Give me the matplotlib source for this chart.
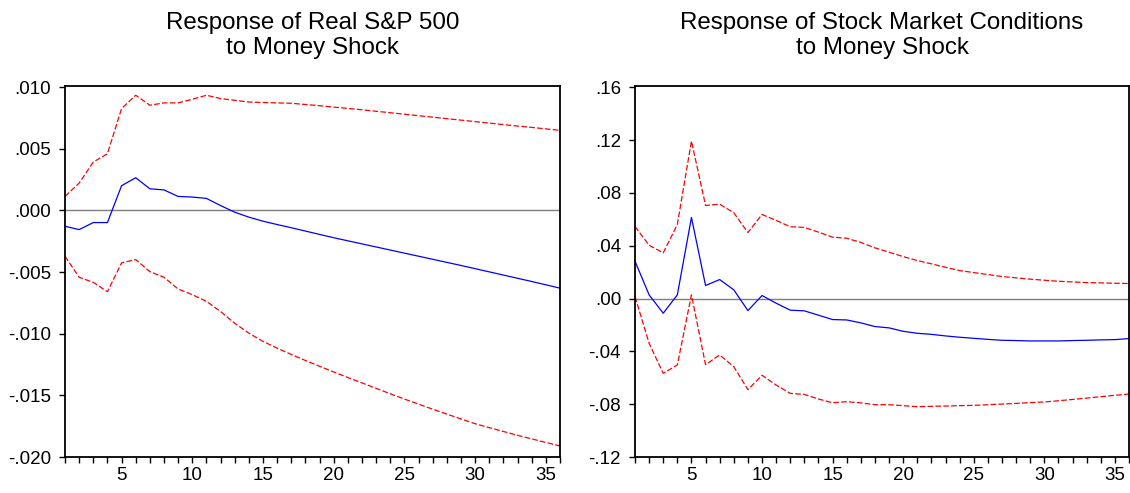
import numpy as np
import matplotlib
matplotlib.use("Agg")
import matplotlib.pyplot as plt
from matplotlib.ticker import FuncFormatter, MultipleLocator

plt.rcParams['font.family'] = ['Liberation Sans', 'DejaVu Sans']

periods = list(range(1, 37))

# Response of Real S&P 500 to money shock
sp_resp = [-0.00128, -0.00155, -0.00098, -0.00098, 0.00201, 0.00266, 0.00176, 0.00167,
           0.00114, 0.00109, 0.00098, 0.00040, -0.00014, -0.00054, -0.00087, -0.00114,
           -0.00140, -0.00167, -0.00194, -0.00221, -0.00246, -0.00271, -0.00296, -0.00321,
           -0.00346, -0.00371, -0.00396, -0.00421, -0.00446, -0.00472, -0.00498, -0.00524,
           -0.00550, -0.00576, -0.00603, -0.00630]
sp_upper = [0.00114, 0.00222, 0.00393, 0.00461, 0.00827, 0.00935, 0.00854, 0.00873,
            0.00873, 0.00902, 0.00935, 0.00908, 0.00894, 0.00880, 0.00876, 0.00873,
            0.00870, 0.00860, 0.00850, 0.00839, 0.00828, 0.00817, 0.00805, 0.00793,
            0.00781, 0.00769, 0.00757, 0.00745, 0.00733, 0.00721, 0.00709, 0.00697,
            0.00685, 0.00674, 0.00662, 0.00650]
sp_lower = [-0.00371, -0.00542, -0.00583, -0.00659, -0.00425, -0.00398, -0.00496, -0.00542,
            -0.00637, -0.00683, -0.00737, -0.00820, -0.00915, -0.00995, -0.01062, -0.01117,
            -0.01168, -0.01217, -0.01264, -0.01310, -0.01355, -0.01399, -0.01443, -0.01487,
            -0.01530, -0.01571, -0.01612, -0.01652, -0.01691, -0.01730, -0.01762, -0.01793,
            -0.01824, -0.01853, -0.01882, -0.01910]

# Response of stock market conditions to money shock
smc_resp = [0.0283, 0.0028, -0.0111, 0.0028, 0.0614, 0.0099, 0.0144, 0.0066,
            -0.0091, 0.0023, -0.0035, -0.0088, -0.0093, -0.0126, -0.0159, -0.0162,
            -0.0184, -0.0212, -0.0222, -0.0248, -0.0263, -0.0271, -0.0283, -0.0293,
            -0.0301, -0.0309, -0.0316, -0.0318, -0.0321, -0.0321, -0.0321, -0.0318,
            -0.0316, -0.0313, -0.0311, -0.0303]
smc_upper = [0.0546, 0.0404, 0.0346, 0.0561, 0.1193, 0.0705, 0.0715, 0.0650,
             0.0500, 0.0637, 0.0592, 0.0544, 0.0539, 0.0503, 0.0465, 0.0457,
             0.0425, 0.0384, 0.0351, 0.0318, 0.0288, 0.0263, 0.0237, 0.0212,
             0.0197, 0.0182, 0.0167, 0.0157, 0.0147, 0.0139, 0.0131, 0.0126,
             0.0121, 0.0119, 0.0116, 0.0114]
smc_lower = [0.0015, -0.0339, -0.0566, -0.0503, 0.0028, -0.0501, -0.0427, -0.0516,
             -0.0690, -0.0581, -0.0655, -0.0718, -0.0726, -0.0761, -0.0789, -0.0781,
             -0.0790, -0.0804, -0.0804, -0.0811, -0.0819, -0.0816, -0.0814, -0.0811,
             -0.0809, -0.0804, -0.0799, -0.0794, -0.0788, -0.0783, -0.0774, -0.0764,
             -0.0754, -0.0743, -0.0733, -0.0723]


def no_lead_zero(decimals):
    def fmt(v, pos):
        s = f"{v:.{decimals}f}"
        return s.replace("0.", ".", 1)
    return FuncFormatter(fmt)


def draw_panel(ax, title, resp, upper, lower, ylim, ystep, decimals):
    ax.axhline(0, color="#7f7f7f", linewidth=1.0, zorder=1)
    ax.plot(periods, upper, color="#ff0000", linewidth=0.9, dashes=(4.5, 1.8))
    ax.plot(periods, lower, color="#ff0000", linewidth=0.9, dashes=(4.5, 1.8))
    ax.plot(periods, resp, color="#0000ff", linewidth=0.9)
    ax.set_xlim(1, 36)
    ax.set_ylim(*ylim)
    ax.yaxis.set_major_locator(MultipleLocator(ystep))
    ax.yaxis.set_major_formatter(no_lead_zero(decimals))
    ax.xaxis.set_major_locator(MultipleLocator(5))
    ax.xaxis.set_minor_locator(MultipleLocator(1))
    ax.tick_params(axis="both", which="both", direction="out", length=4, width=1.0,
                   labelsize=13.5)
    ax.tick_params(axis="y", pad=6, right=False)
    ax.tick_params(axis="x", pad=3, top=False)
    for sp in ax.spines.values():
        sp.set_linewidth(1.3)
    ax.set_title(title, fontsize=17.4, linespacing=1.2, pad=23)


fig = plt.figure(figsize=(11.3, 4.93), dpi=100)
ax1 = fig.add_axes([65 / 1130, 36 / 493, 495 / 1130, 371 / 493])
ax2 = fig.add_axes([635 / 1130, 36 / 493, 494 / 1130, 371 / 493])

draw_panel(ax1, "Response of Real S&P 500\nto Money Shock",
           sp_resp, sp_upper, sp_lower, (-0.020, 0.0101), 0.005, 3)
draw_panel(ax2, "Response of Stock Market Conditions\nto Money Shock",
           smc_resp, smc_upper, smc_lower, (-0.12, 0.161), 0.04, 2)

fig.savefig("out.png", dpi=100)
